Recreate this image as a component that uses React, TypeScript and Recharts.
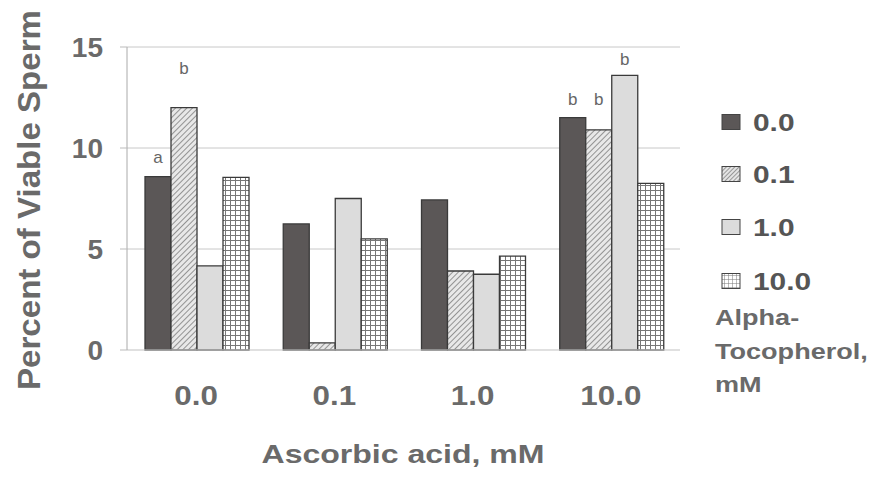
import React from "react";
import { BarChart, Bar, XAxis, YAxis, CartesianGrid, Legend, LabelList } from "recharts";

// Ascorbic acid concentrations (mM) on the x axis
const categories = ["0.0", "0.1", "1.0", "10.0"];
// Alpha-tocopherol series (mM)
const seriesNames = ["0.0", "0.1", "1.0", "10.0"];
const toco00 = [8.58, 6.24, 7.43, 11.5];
const toco01 = [12.0, 0.35, 3.91, 10.9];
const toco10 = [4.16, 7.5, 3.75, 13.6];
const toco100 = [8.55, 5.5, 4.65, 8.25];
const yTicks = [0, 5, 10, 15];

// significance letters and the value level (data units) where each is drawn
const letters00 = ["a", "", "", "b"];
const levels00 = [9.55, 0, 0, 12.43];
const letters01 = ["b", "", "", "b"];
const levels01 = [13.96, 0, 0, 12.43];
const letters10 = ["", "", "", "b"];
const levels10 = [0, 0, 0, 14.4];
const letters100 = ["", "", "", ""];
const levels100 = [0, 0, 0, 0];

const data = categories.map((c, i) => ({
  cat: c,
  t0: toco00[i],
  t1: toco01[i],
  t2: toco10[i],
  t3: toco100[i],
}));

const FONT = "'Liberation Sans', Arial, Helvetica, sans-serif";
const TEXT = "#6a6a6a";

const fills = ["#5b5757", "url(#hatch)", "#dcdcdc", "url(#gridpat)"];
const keys = ["t0", "t1", "t2", "t3"];
const letterSets = [letters00, letters01, letters10, letters100];
const levelSets = [levels00, levels01, levels10, levels100];

const XTick = (props: any) => {
  const { x, y, payload } = props;
  return (
    <text
      transform={`translate(${x},${y + 47}) scale(1.12,1)`}
      textAnchor="middle"
      fontFamily={FONT}
      fontWeight="bold"
      fontSize={28}
      fill={TEXT}
    >
      {payload.value}
    </text>
  );
};

const YTick = (props: any) => {
  const { x, y, payload } = props;
  return (
    <text
      x={x - 15}
      y={y + 10}
      textAnchor="end"
      fontFamily={FONT}
      fontWeight="bold"
      fontSize={28}
      fill={TEXT}
    >
      {payload.value}
    </text>
  );
};

const makeLetter = (si: number) => (props: any) => {
  const { x, y, width, height, index, value } = props;
  const letter = letterSets[si][index];
  if (!letter || !value) return null;
  const pxPerUnit = height / value;
  const base = y + height;
  const cy = base - levelSets[si][index] * pxPerUnit;
  return (
    <text
      x={x + width / 2}
      y={cy + 6}
      textAnchor="middle"
      fontFamily={FONT}
      fontSize={17}
      fill="#666"
    >
      {letter}
    </text>
  );
};

const LegendContent = () => {
  const rows = [27, 79, 132, 186];
  return (
    <svg width={171} height={310} style={{ overflow: "visible" }}>
      <defs>
        <pattern id="hatchL" patternUnits="userSpaceOnUse" width={3} height={3} patternTransform="rotate(45)">
          <rect width={3} height={3} fill="#e4e4e4" />
          <line x1={0} y1={0} x2={0} y2={3} stroke="#777" strokeWidth={1.4} />
        </pattern>
        <pattern id="gridL" patternUnits="userSpaceOnUse" width={4} height={4}>
          <rect width={4} height={4} fill="#fff" />
          <line x1={0} y1={0} x2={4} y2={0} stroke="#777" strokeWidth={1} />
          <line x1={0} y1={0} x2={0} y2={4} stroke="#777" strokeWidth={1} />
        </pattern>
      </defs>
      {seriesNames.map((n, i) => (
        <g key={n}>
          <rect
            x={22}
            y={rows[i] - 7.5}
            width={18}
            height={15}
            fill={i === 1 ? "url(#hatchL)" : i === 3 ? "url(#gridL)" : fills[i]}
            stroke="#444"
            strokeWidth={1}
          />
          <text
            transform={`translate(53,${rows[i] + 8.5}) scale(1.3,1)`}
            fontFamily={FONT}
            fontWeight="bold"
            fontSize={23}
            fill="#555"
          >
            {n}
          </text>
        </g>
      ))}
      {["Alpha-", "Tocopherol,", "mM"].map((t, i) => (
        <text
          key={t}
          transform={`translate(15,${230 + i * 33.5}) scale(1.23,1)`}
          fontFamily={FONT}
          fontWeight="bold"
          fontSize={22}
          fill={TEXT}
        >
          {t}
        </text>
      ))}
    </svg>
  );
};

const YTitle = () => (
  <text
    transform="translate(40,200) rotate(-90)"
    textAnchor="middle"
    fontFamily={FONT}
    fontWeight="bold"
    fontSize={32}
    fill={TEXT}
    textLength={380}
    lengthAdjust="spacingAndGlyphs"
  >
    Percent of Viable Sperm
  </text>
);

const XTitle = () => (
  <text
    x={403}
    y={463}
    textAnchor="middle"
    fontFamily={FONT}
    fontWeight="bold"
    fontSize={25}
    fill={TEXT}
    textLength={283}
    lengthAdjust="spacingAndGlyphs"
  >
    Ascorbic acid, mM
  </text>
);

export default function App() {
  return (
    <div style={{ position: "absolute", left: 0, top: 0, width: 871, height: 477, background: "#fff" }}>
      <BarChart
        width={871}
        height={477}
        data={data}
        margin={{ top: 47, right: 20, bottom: 67, left: 67 }}
        barCategoryGap={18}
        barGap={0}
      >
        <defs>
          <pattern id="hatch" patternUnits="userSpaceOnUse" width={4} height={4} patternTransform="rotate(45)">
            <rect width={4} height={4} fill="#e8e8e8" />
            <line x1={0} y1={0} x2={0} y2={4} stroke="#777" strokeWidth={1.5} />
          </pattern>
          <pattern id="gridpat" patternUnits="userSpaceOnUse" width={5} height={5}>
            <rect width={5} height={5} fill="#fff" />
            <line x1={0} y1={0.5} x2={5} y2={0.5} stroke="#777" strokeWidth={1} />
            <line x1={0.5} y1={0} x2={0.5} y2={5} stroke="#777" strokeWidth={1} />
          </pattern>
        </defs>
        <CartesianGrid vertical={false} stroke="#c8c8c8" />
        <XAxis
          dataKey="cat"
          height={60}
          axisLine={{ stroke: "#dddddd" }}
          tickLine={false}
          tick={<XTick />}
          label={{ content: () => <XTitle /> }}
        />
        <YAxis
          width={60}
          domain={[0, 15]}
          ticks={yTicks}
          axisLine={{ stroke: "#aaaaaa" }}
          tickLine={{ stroke: "#bbbbbb" }}
          tickSize={7}
          tick={<YTick />}
          label={{ content: () => <YTitle /> }}
        />
        <Legend
          layout="horizontal"
          verticalAlign="middle"
          align="right"
          content={() => <LegendContent />}
          wrapperStyle={{ left: 700, top: 95, width: 171, height: 310 }}
        />
        {keys.map((k, i) => (
          <Bar
            key={k}
            dataKey={k}
            name={seriesNames[i]}
            fill={fills[i]}
            stroke="#3a3a3a"
            strokeWidth={1.3}
            isAnimationActive={false}
          >
            <LabelList dataKey={k} content={makeLetter(i)} />
          </Bar>
        ))}
      </BarChart>
    </div>
  );
}
